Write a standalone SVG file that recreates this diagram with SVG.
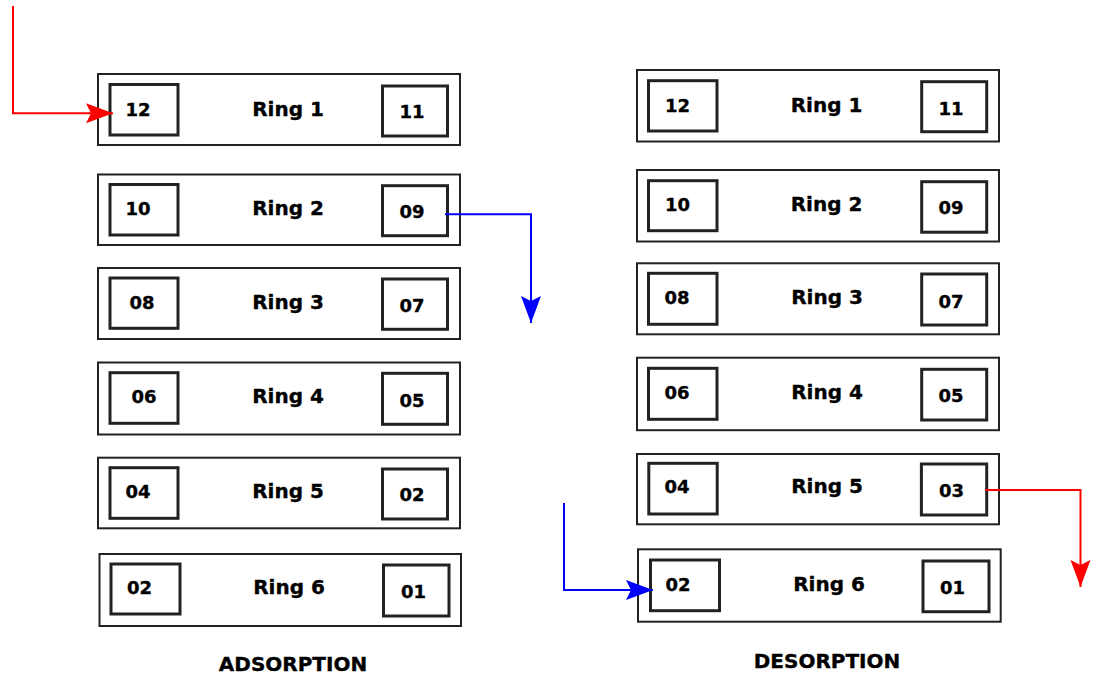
<svg xmlns="http://www.w3.org/2000/svg" width="1093" height="676" viewBox="0 0 1093 676">
  <style>
    .ring { fill: #ffffff; stroke: #222222; stroke-width: 2; }
    .cell { fill: #ffffff; stroke: #222222; stroke-width: 3; }
    text { font-family: "DejaVu Sans", Verdana, sans-serif; font-weight: bold; fill: #000000; stroke: #000000; stroke-width: 0.35; text-anchor: middle; }
    .name { font-size: 20px; }
    .num { font-size: 18px; }
    .title { font-size: 20px; }
    .flow { fill: none; stroke-width: 2; }
  </style>
  <defs>
    <marker id="head-red" markerUnits="userSpaceOnUse" viewBox="-28 -11 29 22" markerWidth="29" markerHeight="22" refX="0" refY="0" orient="auto">
      <path d="M0,0 L-27,-10 L-22,0 L-27,10 Z" fill="#ff0000"/>
    </marker>
    <marker id="head-blue" markerUnits="userSpaceOnUse" viewBox="-28 -11 29 22" markerWidth="29" markerHeight="22" refX="0" refY="0" orient="auto">
      <path d="M0,0 L-27,-10 L-22,0 L-27,10 Z" fill="#0000ff"/>
    </marker>
  </defs>
  <rect width="1093" height="676" fill="#ffffff"/>

  <!-- Adsorption column -->
  <g id="ads-ring1">
    <rect class="ring" x="98" y="74" width="362" height="71"/>
    <rect class="cell" x="110" y="84.5" width="68" height="50.5"/>
    <rect class="cell" x="382.5" y="86" width="65" height="50"/>
    <text class="num" x="138" y="116">12</text>
    <text class="name" x="288" y="116">Ring 1</text>
    <text class="num" x="412" y="118">11</text>
  </g>
  <g id="ads-ring2">
    <rect class="ring" x="98" y="174.5" width="362" height="70.5"/>
    <rect class="cell" x="110" y="184.5" width="68" height="50.5"/>
    <rect class="cell" x="382.5" y="185.7" width="65" height="50"/>
    <text class="num" x="138" y="215">10</text>
    <text class="name" x="288" y="215">Ring 2</text>
    <text class="num" x="412" y="218">09</text>
  </g>
  <g id="ads-ring3">
    <rect class="ring" x="98" y="268" width="362" height="71"/>
    <rect class="cell" x="110" y="278" width="68" height="50.3"/>
    <rect class="cell" x="382.5" y="279" width="65" height="50.3"/>
    <text class="num" x="142" y="309">08</text>
    <text class="name" x="288" y="309">Ring 3</text>
    <text class="num" x="412" y="312">07</text>
  </g>
  <g id="ads-ring4">
    <rect class="ring" x="98" y="362.5" width="362" height="72"/>
    <rect class="cell" x="110" y="372.7" width="68" height="50.6"/>
    <rect class="cell" x="382.5" y="373.3" width="65" height="51"/>
    <text class="num" x="144" y="403">06</text>
    <text class="name" x="288" y="403">Ring 4</text>
    <text class="num" x="412" y="407">05</text>
  </g>
  <g id="ads-ring5">
    <rect class="ring" x="98" y="457.7" width="362" height="70.6"/>
    <rect class="cell" x="110" y="467.7" width="68" height="50.6"/>
    <rect class="cell" x="382.5" y="469" width="65" height="50"/>
    <text class="num" x="138" y="498">04</text>
    <text class="name" x="288" y="498">Ring 5</text>
    <text class="num" x="412" y="501">02</text>
  </g>
  <g id="ads-ring6">
    <rect class="ring" x="99.5" y="554" width="361.5" height="72"/>
    <rect class="cell" x="111" y="564" width="69" height="50"/>
    <rect class="cell" x="383.5" y="565" width="65.5" height="51"/>
    <text class="num" x="139.5" y="594">02</text>
    <text class="name" x="289" y="594">Ring 6</text>
    <text class="num" x="413.5" y="598">01</text>
  </g>
  <g id="ads-title">
    <text class="title" x="293" y="671">ADSORPTION</text>
  </g>

  <!-- Desorption column -->
  <g id="des-ring1">
    <rect class="ring" x="637" y="70" width="362" height="71.5"/>
    <rect class="cell" x="648.5" y="80.7" width="68.5" height="50.3"/>
    <rect class="cell" x="921.7" y="81.7" width="65" height="50"/>
    <text class="num" x="677.5" y="112">12</text>
    <text class="name" x="826.5" y="112">Ring 1</text>
    <text class="num" x="951" y="115">11</text>
  </g>
  <g id="des-ring2">
    <rect class="ring" x="637" y="170" width="362" height="71.5"/>
    <rect class="cell" x="648.5" y="180.7" width="68.5" height="50"/>
    <rect class="cell" x="921.7" y="181.7" width="65" height="50.5"/>
    <text class="num" x="677.5" y="211">10</text>
    <text class="name" x="826.5" y="211">Ring 2</text>
    <text class="num" x="951" y="214">09</text>
  </g>
  <g id="des-ring3">
    <rect class="ring" x="637" y="263.3" width="362" height="71"/>
    <rect class="cell" x="648.5" y="273.3" width="68.5" height="51"/>
    <rect class="cell" x="921.7" y="274" width="65" height="51"/>
    <text class="num" x="677" y="304">08</text>
    <text class="name" x="827" y="304">Ring 3</text>
    <text class="num" x="951" y="307.7">07</text>
  </g>
  <g id="des-ring4">
    <rect class="ring" x="637" y="357.7" width="362" height="72.5"/>
    <rect class="cell" x="648.5" y="368.3" width="68.5" height="51"/>
    <rect class="cell" x="921.7" y="369.3" width="65" height="50.7"/>
    <text class="num" x="677" y="399">06</text>
    <text class="name" x="827" y="399">Ring 4</text>
    <text class="num" x="951" y="402">05</text>
  </g>
  <g id="des-ring5">
    <rect class="ring" x="637" y="454" width="362" height="70.3"/>
    <rect class="cell" x="648.8" y="463.3" width="68.4" height="50.7"/>
    <rect class="cell" x="921.4" y="464" width="65.3" height="51"/>
    <text class="num" x="677" y="493.3">04</text>
    <text class="name" x="827" y="493.3">Ring 5</text>
    <text class="num" x="951.6" y="497.3">03</text>
  </g>
  <g id="des-ring6">
    <rect class="ring" x="638" y="549.3" width="362.7" height="72.4"/>
    <rect class="cell" x="650.5" y="560" width="69" height="50.7"/>
    <rect class="cell" x="923" y="561" width="66" height="50.7"/>
    <text class="num" x="678" y="590.7">02</text>
    <text class="name" x="829" y="590.7">Ring 6</text>
    <text class="num" x="952.6" y="594">01</text>
  </g>
  <g id="des-title">
    <text class="title" x="827" y="668">DESORPTION</text>
  </g>

  <!-- Flow connectors -->
  <g id="connectors">
    <path class="flow" d="M13,6 V113.3 H113" stroke="#ff0000" marker-end="url(#head-red)"/>
    <path class="flow" d="M445,214.3 H531 V323" stroke="#0000ff" marker-end="url(#head-blue)"/>
    <path class="flow" d="M985,490 H1080.5 V587" stroke="#ff0000" marker-end="url(#head-red)"/>
    <path class="flow" d="M564,503 V590 H653" stroke="#0000ff" marker-end="url(#head-blue)"/>
  </g>
</svg>
